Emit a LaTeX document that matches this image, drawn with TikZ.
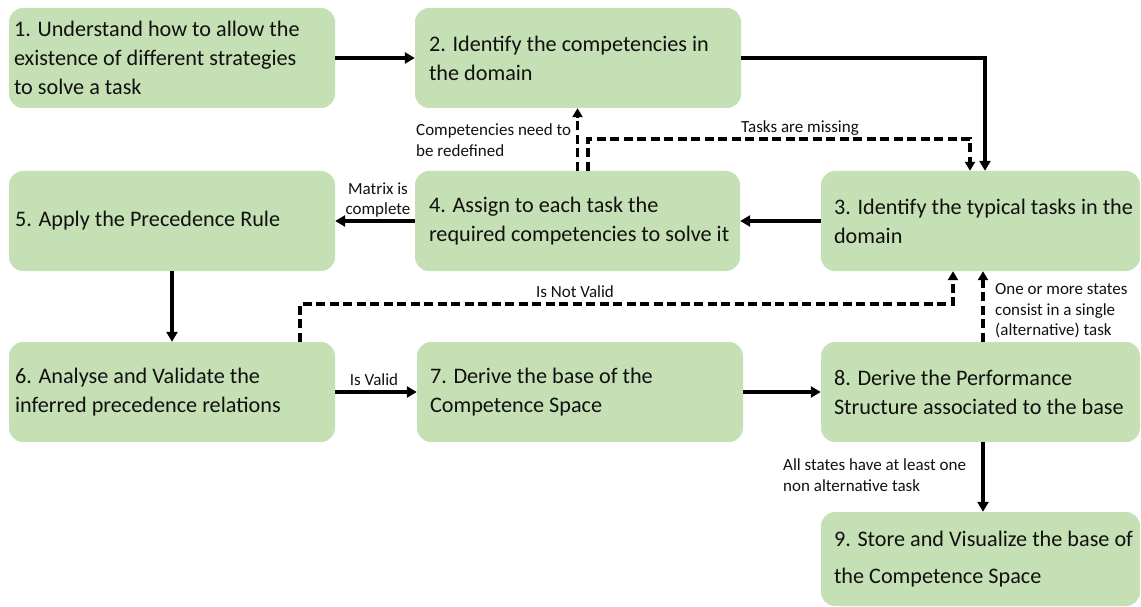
\documentclass[tikz,border=0pt]{standalone}
\usepackage{fontspec}
\setmainfont{Carlito}
\usetikzlibrary{arrows.meta}
\definecolor{boxgreen}{HTML}{C5E0B4}
\definecolor{ink}{HTML}{111111}

\begin{document}
\begin{tikzpicture}[x=1pt,y=-1pt,
  stepbox/.style={rectangle, rounded corners=14pt, fill=boxgreen, draw=none,
    minimum height=100pt, inner sep=0pt},
  boxtext/.style={anchor=west, align=left, inner sep=0pt, text=ink,
    font=\fontsize{22.2}{29}\selectfont},
  lbl/.style={inner sep=0pt, text=ink, font=\fontsize{17}{20.5}\selectfont},
  arr/.style={line width=3.2pt, -{Triangle[length=10pt,width=11pt]}},
  darr/.style={line width=3.5pt, dash pattern=on 9pt off 4.5pt,
    -{Triangle[length=9pt,width=10pt]}}]

\useasboundingbox (0,0) rectangle (1141,607);

% process steps
\node[stepbox, minimum width=326pt] (b1) at (172,58) {};
\node[stepbox, minimum width=326pt] (b2) at (578,58) {};
\node[stepbox, minimum width=319pt] (b3) at (980.5,221) {};
\node[stepbox, minimum width=325pt] (b4) at (577.5,221) {};
\node[stepbox, minimum width=326pt] (b5) at (172,221) {};
\node[stepbox, minimum width=326pt] (b6) at (172,392) {};
\node[stepbox, minimum width=326pt] (b7) at (580,392) {};
\node[stepbox, minimum width=319pt] (b8) at (980.5,392) {};
\node[stepbox, minimum width=319pt, minimum height=94pt] (b9) at (980.5,559) {};

\node[boxtext] (t1) at ([xshift=5pt]b1.west) {1. Understand how to allow the\\existence of different strategies\\to solve a task};
\node[boxtext] (t2) at ([xshift=14pt]b2.west) {2. Identify the competencies in\\the domain};
\node[boxtext] (t3) at ([xshift=13pt]b3.west) {3. Identify the typical tasks in the\\domain};
\node[boxtext] (t4) at ([xshift=14pt]b4.west) {4. Assign to each task the\\required competencies to solve it};
\node[boxtext] (t5) at ([xshift=6pt]b5.west) {5. Apply the Precedence Rule};
\node[boxtext] (t6) at ([xshift=6pt]b6.west) {6. Analyse and Validate the\\inferred precedence relations};
\node[boxtext] (t7) at ([xshift=13pt]b7.west) {7. Derive the base of the\\Competence Space};
\node[boxtext] (t8) at ([xshift=13pt]b8.west) {8. Derive the Performance\\Structure associated to the base};
\node[boxtext, font=\fontsize{22.2}{37}\selectfont] (t9) at ([xshift=13pt]b9.west) {9. Store and Visualize the base of\\the Competence Space};

% main flow
\draw[arr] (b1.east) -- (b2.west);
\draw[arr] (b2.east) -| ([xshift=4.5pt]b3.north);
\draw[arr] (b3.west) -- (b4.east);
\draw[arr] (b4.west) -- (b5.east);
\draw[arr] (b5.south) -- (b6.north);
\draw[arr] (b6.east) -- (b7.west);
\draw[arr] (b7.east) -- (b8.west);
\draw[arr] ([xshift=2.5pt]b8.south) -- ([xshift=2.5pt]b9.north);

% feedback loops
\draw[darr] (b4.north) -- (b4.north |- b2.south);
\draw[darr] ([xshift=10.5pt]b4.north) -- ++(0,-32) -| ([xshift=-10.5pt]b3.north);
\draw[darr] ([xshift=128pt]b6.north) -- ++(0,-38) -| ([xshift=-27.5pt]b3.south);
\draw[darr] ([xshift=2.5pt]b8.north) -- ([xshift=2.5pt]b3.south);

% conditions
\node[lbl, anchor=west, align=left] (l1) at (416,140) {Competencies need to\\be redefined};
\node[lbl] (l2) at (800,128) {Tasks are missing};
\node[lbl, align=center] (l3) at (378,200) {Matrix is\\complete};
\node[lbl] (l4) at (575,292) {Is Not Valid};
\node[lbl, anchor=west, align=left] (l5) at (995,311) {One or more states\\consist in a single\\(alternative) task};
\node[lbl] (l6) at (374,380) {Is Valid};
\node[lbl, anchor=west, align=left] (l7) at (783,475) {All states have at least one\\non alternative task};
\end{tikzpicture}
\end{document}
